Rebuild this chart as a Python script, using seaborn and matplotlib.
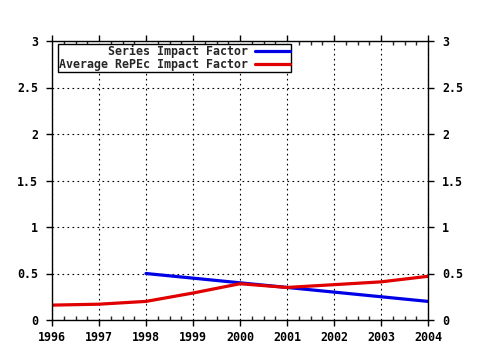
import matplotlib
matplotlib.use("Agg")
import matplotlib.pyplot as plt
from matplotlib.ticker import MultipleLocator
from matplotlib.lines import Line2D
import seaborn as sns
import pandas as pd

years_series = [1998, 1999, 2000, 2001, 2002, 2003, 2004]
series_if = [0.50, 0.45, 0.40, 0.35, 0.30, 0.25, 0.20]
years_avg = [1996, 1997, 1998, 1999, 2000, 2001, 2002, 2003, 2004]
avg_if = [0.16, 0.17, 0.20, 0.29, 0.39, 0.35, 0.38, 0.41, 0.47]
labels = ["Series Impact Factor", "Average RePEc Impact Factor"]
colors = ["#0000e6", "#e00000"]
x_ticks = [1996, 1997, 1998, 1999, 2000, 2001, 2002, 2003, 2004]
y_ticks = [0, 0.5, 1, 1.5, 2, 2.5, 3]
y_ticklabels = ["0", "0.5", "1", "1.5", "2", "2.5", "3"]

df = pd.concat([
    pd.DataFrame({"year": years_series, "value": series_if, "name": labels[0]}),
    pd.DataFrame({"year": years_avg, "value": avg_if, "name": labels[1]}),
])

sns.set_style("white")
plt.rcParams["font.family"] = ["DejaVu Sans Mono"]
plt.rcParams["font.weight"] = "bold"

fig = plt.figure(figsize=(4.8, 3.5), dpi=100)
ax = fig.add_axes([52/480, 30/350, 376/480, 279/350])

sns.lineplot(data=df, x="year", y="value", hue="name", hue_order=labels,
             palette=colors, linewidth=2.3, ax=ax, legend=False)

ax.set_xlim(1996, 2004)
ax.set_ylim(0, 3)
ax.set_xticks(x_ticks)
ax.set_xticklabels([str(y) for y in x_ticks])
ax.set_yticks(y_ticks)
ax.set_yticklabels(y_ticklabels)
ax.xaxis.set_minor_locator(MultipleLocator(0.25))
ax.set_xlabel("")
ax.set_ylabel("")

ax.grid(True, which="major", color="black", linestyle=(0, (1.5, 3)), linewidth=0.8)
for s in ax.spines.values():
    s.set_visible(True)
    s.set_color("black")
    s.set_linewidth(1.0)

fs = 8.4
ax.tick_params(axis="x", which="major", direction="out", length=4, width=1,
               top=True, bottom=True, labelsize=fs, pad=4, colors="black")
ax.tick_params(axis="x", which="minor", direction="in", length=3, width=1,
               top=True, bottom=True)
ax.tick_params(axis="y", which="major", direction="out", length=4, width=1,
               left=True, right=True, labelleft=True, labelright=True,
               labelsize=fs, pad=6, colors="black")
for t in ax.get_xticklabels() + ax.get_yticklabels():
    t.set_fontweight("bold")

handles = [Line2D([0], [0], color=c, linewidth=2.3) for c in colors]
leg = ax.legend(handles, labels, loc="upper left", bbox_to_anchor=(6/376, 1 - 3/279),
                markerfirst=False, frameon=True, fancybox=False, framealpha=1,
                edgecolor="black", prop={"family": "DejaVu Sans Mono", "weight": "bold", "size": fs},
                handlelength=3.0, handletextpad=0.6, labelspacing=0.0, borderpad=0.1,
                borderaxespad=0)
leg.get_frame().set_linewidth(1.0)

fig.savefig("out.png", dpi=100, facecolor="white")
